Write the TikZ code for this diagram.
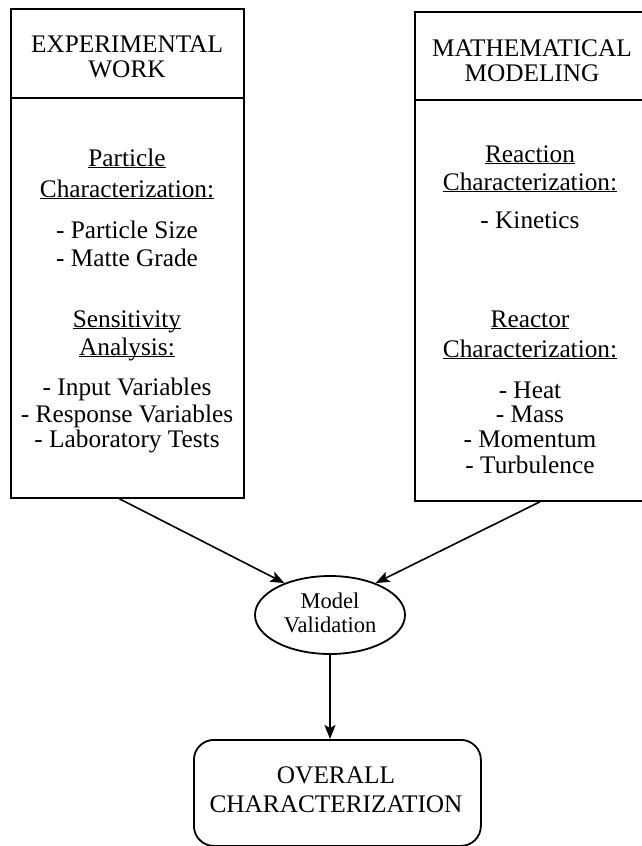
\documentclass[tikz,border=0pt]{standalone}
\usepackage{fontspec}
\setmainfont{Liberation Serif}
\usetikzlibrary{arrows.meta,shapes.geometric,calc}
\newcommand\ulin[1]{\underline{\raisebox{0pt}[\height][0pt]{#1}}}
\begin{document}
\begin{tikzpicture}[x=1pt,y=-1pt,
  box/.style={draw,line width=1.8pt,inner sep=0pt},
  sep/.style={line width=1.8pt},
  txt/.style={anchor=base,inner sep=0pt,font=\fontsize{25.3}{28}\selectfont},
  small/.style={anchor=base,inner sep=0pt,font=\fontsize{22.5}{24}\selectfont},
  arr/.style={line width=1.6pt,-{Stealth[length=14pt,width=11pt,inset=3pt]}}]
\useasboundingbox (0,0) rectangle (642,846);
% boxes
\node[box,anchor=north west,minimum width=233pt,minimum height=489pt] (exp) at (10,8) {};
\node[box,anchor=north west,minimum width=232pt,minimum height=489pt] (math) at (414,11) {};
\draw[sep] (10,98) -- (243,98);
\draw[sep] (414,100) -- (646,100);
% left header
\node[txt] (eh1) at (127,52) {EXPERIMENTAL};
\node[txt] (eh2) at (127,77) {WORK};
% left body
\node[txt] (e1) at (127,166) {\ulin{Particle}};
\node[txt] (e2) at (127,197) {\ulin{Characterization:}};
\node[txt] (e3) at (127,238) {- Particle Size};
\node[txt] (e4) at (127,266) {- Matte Grade};
\node[txt] (e5) at (127,327) {\ulin{Sensitivity}};
\node[txt] (e6) at (127,355) {\ulin{Analysis:}};
\node[txt] (e7) at (127,395) {- Input Variables};
\node[txt] (e8) at (127,422) {- Response Variables};
\node[txt] (e9) at (127,447) {- Laboratory Tests};
% right header
\node[txt] (mh1) at (532,56) {MATHEMATICAL};
\node[txt] (mh2) at (532,81) {MODELING};
% right body
\node[txt] (m1) at (530,162) {\ulin{Reaction}};
\node[txt] (m2) at (530,190) {\ulin{Characterization:}};
\node[txt] (m3) at (530,228) {- Kinetics};
\node[txt] (m4) at (530,327) {\ulin{Reactor}};
\node[txt] (m5) at (530,357) {\ulin{Characterization:}};
\node[txt] (m6) at (530,398) {- Heat};
\node[txt] (m7) at (530,422) {- Mass};
\node[txt] (m8) at (530,447) {- Momentum};
\node[txt] (m9) at (530,473) {- Turbulence};
% ellipse
\node[box,ellipse,minimum width=150pt,minimum height=78pt] (val) at (330,615) {};
\node[small] (v1) at (330,608) {Model};
\node[small] (v2) at (330,632) {Validation};
% bottom box
\node[box,rounded corners=20pt,anchor=north west,minimum width=287pt,minimum height=106pt] (ovr) at (193,739) {};
\node[txt] (o1) at (336,783) {OVERALL};
\node[txt] (o2) at (336,812) {CHARACTERIZATION};
% connectors
\draw[arr] ($(exp.south)+(-8,0)$) -- (val.145);
\draw[arr] ($(math.south)+(9,0)$) -- (val.35);
\draw[arr] (val.south) -- (val.south |- ovr.north);
\end{tikzpicture}
\end{document}
